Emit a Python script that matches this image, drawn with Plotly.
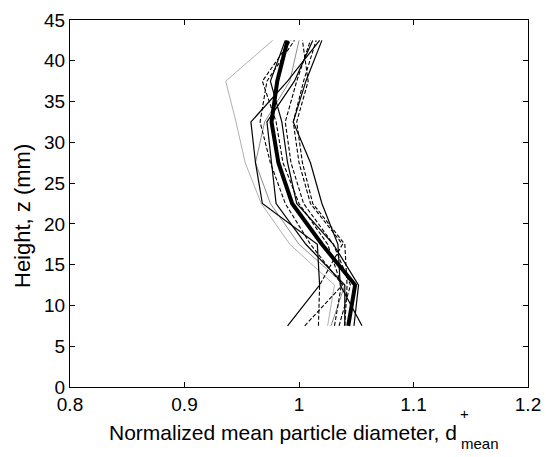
import plotly.graph_objects as go

heights = [7.5, 12.5, 17.5, 22.5, 27.5, 32.5, 37.5, 42.5]

mean_profile = [1.043, 1.049, 1.020, 0.994, 0.982, 0.976, 0.981, 0.990]

solid_1 = [1.055, 1.036, 1.034, 1.020, 1.010, 0.995, 1.006, 1.020]
solid_2 = [0.990, 1.018, 1.016, 0.968, 0.962, 0.958, 0.990, 1.018]
solid_3 = [1.048, 1.052, 1.030, 0.998, 0.990, 0.985, 0.975, 0.988]
solid_4 = [1.040, 1.040, 1.006, 0.980, 0.976, 0.972, 0.996, 1.012]

dashed_1 = [1.005, 1.038, 1.010, 0.988, 0.975, 0.966, 0.972, 0.996]
dashed_2 = [1.017, 1.018, 1.038, 1.010, 1.000, 0.995, 1.004, 1.015]
dashed_3 = [1.035, 1.045, 1.030, 1.004, 0.993, 0.988, 0.998, 1.010]
dashed_4 = [1.031, 1.037, 1.025, 1.000, 0.986, 0.980, 0.968, 0.993]
dashed_5 = [1.040, 1.042, 1.040, 1.012, 1.003, 0.998, 1.008, 1.003]

gray_1 = [1.025, 1.031, 0.992, 0.967, 0.953, 0.945, 0.936, 0.977]
gray_2 = [1.028, 1.040, 1.000, 0.975, 0.962, 0.970, 0.992, 1.000]

fig = go.Figure()

def add(xs, color, width, dash="solid"):
    fig.add_trace(go.Scatter(x=xs, y=heights, mode="lines",
                             line=dict(color=color, width=width, dash=dash),
                             showlegend=False, hoverinfo="skip"))

add(gray_1, "#b0b0b0", 1)
add(gray_2, "#8c8c8c", 1)
for s in [solid_1, solid_2, solid_3, solid_4]:
    add(s, "black", 1.2)
for d in [dashed_1, dashed_2, dashed_3, dashed_4, dashed_5]:
    add(d, "black", 1.1, "4px,2px")
add(mean_profile, "black", 4)

fam = "Liberation Sans, Arial, sans-serif"
tickfont = dict(family=fam, size=19, color="black")
xtitlefont = dict(family=fam, size=21, color="black")
ytitlefont = dict(family=fam, size=22, color="black")

L, R, T, B = 70, 18, 20, 70
pw = 546 - L - R
ph = 457 - T - B

fig.update_layout(
    width=546, height=457,
    margin=dict(l=L, r=R, t=T, b=B, autoexpand=False),
    paper_bgcolor="white", plot_bgcolor="white",
    font=tickfont,
    xaxis=dict(range=[0.8, 1.2], tickvals=[0.8, 0.9, 1.0, 1.1, 1.2],
               ticktext=["0.8", "0.9", "1", "1.1", "1.2"],
               ticks="inside", ticklen=5, tickcolor="black", tickfont=tickfont,
               showline=True, linecolor="black", linewidth=1, mirror="ticks",
               showgrid=False, zeroline=False, automargin=False),
    yaxis=dict(range=[0, 45], tickvals=list(range(0, 50, 5)),
               ticks="inside", ticklen=5, tickcolor="black", tickfont=tickfont,
               showline=True, linecolor="black", linewidth=1, mirror="ticks",
               showgrid=False, zeroline=False, automargin=False),
)

fig.add_annotation(text="Height, z (mm)", xref="paper", yref="paper",
                   x=-(L - 22) / pw, y=(387 - 216) / ph, textangle=-90,
                   xanchor="center", yanchor="middle", showarrow=False, font=ytitlefont)
fig.add_annotation(text="Normalized mean particle diameter, d", xref="paper", yref="paper",
                   x=(459 - L) / pw, y=-(432 - 387) / ph, xanchor="right", yanchor="middle",
                   showarrow=False, font=xtitlefont)
fig.add_annotation(text="+", xref="paper", yref="paper",
                   x=(458 - L) / pw, y=-(413 - 387) / ph, xanchor="left", yanchor="middle",
                   showarrow=False, font=dict(family=fam, size=15, color="black"))
fig.add_annotation(text="mean", xref="paper", yref="paper",
                   x=(459 - L) / pw, y=-(443 - 387) / ph, xanchor="left", yanchor="middle",
                   showarrow=False, font=dict(family=fam, size=15, color="black"))

fig.write_html("out.html")
